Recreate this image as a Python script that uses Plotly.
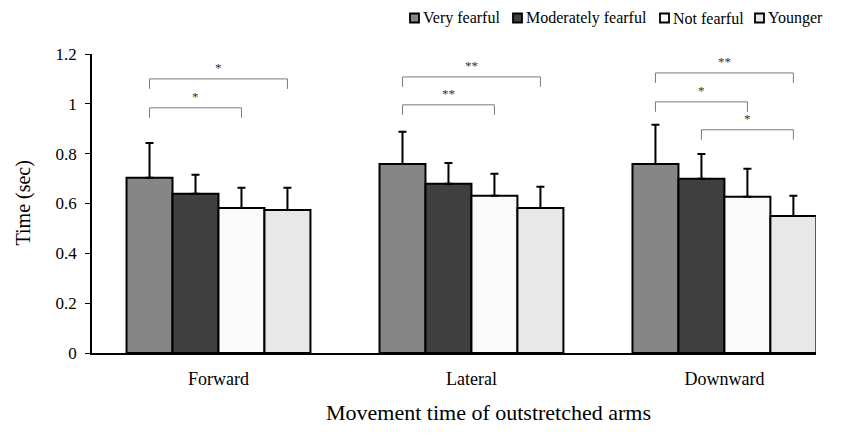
import plotly.graph_objects as go

categories = ["Forward", "Lateral", "Downward"]
groups = ["Very fearful", "Moderately fearful", "Not fearful", "Younger"]
colors = ["#868686", "#404040", "#fafafa", "#e8e8e8"]

means = {
    "Very fearful":       [0.703, 0.759, 0.759],
    "Moderately fearful": [0.639, 0.679, 0.699],
    "Not fearful":        [0.582, 0.631, 0.627],
    "Younger":            [0.574, 0.582, 0.550],
}
sds = {
    "Very fearful":       [0.140, 0.129, 0.157],
    "Moderately fearful": [0.076, 0.084, 0.100],
    "Not fearful":        [0.081, 0.088, 0.112],
    "Younger":            [0.089, 0.085, 0.081],
}

# significance comparisons: (category index, group a, group b, bracket level, label)
comparisons = [
    (0, 0, 2, 0.984, "*"),
    (0, 0, 3, 1.100, "*"),
    (1, 0, 2, 0.996, "**"),
    (1, 0, 3, 1.108, "**"),
    (2, 1, 3, 0.896, "*"),
    (2, 0, 2, 1.008, "*"),
    (2, 0, 3, 1.124, "**"),
]

# the page body has an 8px margin, so the figure is drawn 8px smaller
OFF = 8
W, H = 844 - OFF, 436 - OFF
ML, MR, MT, MB = 92 - OFF, 28, 54 - OFF, 83
PW, PH = W - ML - MR, H - MT - MB
bargap = 0.273
n = len(groups)
bw = (1 - bargap) / n

FONT = "Liberation Serif"


def px_x(x):  # window pixel -> paper x
    return (x - OFF - ML) / PW


def px_y(y):  # window pixel -> paper y
    return (H - MB - (y - OFF)) / PH


fig = go.Figure()
for g, c in zip(groups, colors):
    fig.add_trace(go.Bar(
        name=g, x=categories, y=means[g], showlegend=False,
        marker=dict(color=c, line=dict(color="black", width=2)),
        error_y=dict(type="data", array=sds[g], arrayminus=[0] * len(categories),
                     symmetric=False, color="black", thickness=2, width=4),
    ))


def bar_center(ci, gi):
    return ci - (1 - bargap) / 2 + bw * (gi + 0.5)


drop = 0.04
for ci, a, b, lvl, lab in comparisons:
    xa, xb = bar_center(ci, a), bar_center(ci, b)
    fig.add_trace(go.Scatter(
        x=[xa, xa, xb, xb], y=[lvl - drop, lvl, lvl, lvl - drop],
        mode="lines", line=dict(color="#7a7a7a", width=1),
        showlegend=False, hoverinfo="skip", xaxis="x2",
    ))
    fig.add_annotation(x=(xa + xb) / 2, y=lvl, xref="x2", yref="y", text=lab,
                       showarrow=False, yshift=11,
                       font=dict(family=FONT, size=13, color="#333333"))

# manual legend (square swatch + label), laid out in window pixels
legend_marker_x = [410, 513, 660, 755]
legend_y = 18
sq = 9
for g, c, mx in zip(groups, colors, legend_marker_x):
    fig.add_shape(type="rect", xref="paper", yref="paper",
                  x0=px_x(mx), x1=px_x(mx + sq),
                  y0=px_y(legend_y + sq / 2), y1=px_y(legend_y - sq / 2),
                  fillcolor=c, line=dict(color="black", width=1.8))
    fig.add_annotation(xref="paper", yref="paper",
                       x=px_x(mx + sq + 2), y=px_y(legend_y),
                       xanchor="left", yanchor="middle", text=g, showarrow=False,
                       font=dict(family=FONT, size=16, color="black"))

# axis titles
fig.add_annotation(xref="paper", yref="paper", x=px_x(488), y=px_y(412),
                   xanchor="center", yanchor="middle",
                   text="Movement time of outstretched arms", showarrow=False,
                   font=dict(family=FONT, size=22, color="black"))
fig.add_annotation(xref="paper", yref="paper", x=px_x(23), y=0.5,
                   xanchor="center", yanchor="middle", textangle=-90,
                   text="Time (sec)", showarrow=False,
                   font=dict(family=FONT, size=20, color="black"))

fig.update_layout(
    width=W, height=H,
    margin=dict(l=ML, r=MR, t=MT, b=MB, autoexpand=False),
    paper_bgcolor="white", plot_bgcolor="white",
    barmode="group", bargap=bargap, bargroupgap=0,
    font=dict(family=FONT, size=17, color="black"),
    showlegend=False,
    xaxis=dict(range=[-0.5, 2.362], showline=True, linecolor="black", linewidth=1.5,
               ticks="", showgrid=False, zeroline=False, automargin=False,
               tickfont=dict(family=FONT, size=18), ticklabelstandoff=9),
    xaxis2=dict(range=[-0.5, 2.362], overlaying="x", visible=False),
    yaxis=dict(range=[0, 1.2], tickvals=[0, 0.2, 0.4, 0.6, 0.8, 1, 1.2],
               ticktext=["0", "0.2", "0.4", "0.6", "0.8", "1", "1.2"],
               showline=True, linecolor="black", linewidth=1.5,
               ticks="outside", ticklen=5, tickcolor="black", tickwidth=1,
               showgrid=False, zeroline=False, automargin=False,
               tickfont=dict(family=FONT, size=17), ticklabelstandoff=5),
)

fig.write_html("out.html")
